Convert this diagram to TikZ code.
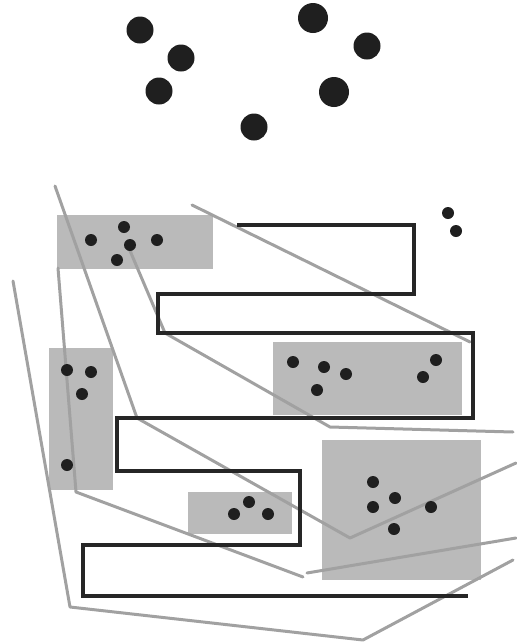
\documentclass[tikz,border=0pt]{standalone}
\begin{document}
\begin{tikzpicture}[x=1pt,y=-1pt,
  graybox/.style={fill=black!27,draw=none},
  grayline/.style={draw=black!37,line width=3pt,line join=round,line cap=round},
  meander/.style={draw=black!85,line width=3.2pt,line join=miter},
  bigdot/.style={fill=black!88,draw=none},
  smalldot/.style={fill=black!88,draw=none}]
\useasboundingbox (0,0) rectangle (517,643);
% gray boxes
\fill[graybox] (57,215) rectangle (213,269);
\fill[graybox] (273,342) rectangle (462,415);
\fill[graybox] (49,348) rectangle (113,490);
\fill[graybox] (188,492) rectangle (292,534);
\fill[graybox] (322,440) rectangle (481,580);
% gray lines
\draw[grayline] (55,186) -- (137,418) -- (350,538) -- (516,463);
\draw[grayline] (192,205) -- (470,342);
\draw[grayline] (128,246) -- (165,333) -- (330,427) -- (513,432);
\draw[grayline] (58,268) -- (76,492) -- (303,577);
\draw[grayline] (307,573) -- (516,538);
\draw[grayline] (13,281) -- (70,607) -- (363,640) -- (513,560);
% black meander
\draw[meander] (237,225) -- (414,225) -- (414,294) -- (158,294) -- (158,333)
  -- (473,333) -- (473,418) -- (117,418) -- (117,471) -- (300,471) -- (300,545)
  -- (83,545) -- (83,596) -- (468,596);
% big dots
\fill[bigdot] (140,30) circle (13.5);
\fill[bigdot] (181,58) circle (13.5);
\fill[bigdot] (159,91) circle (13.5);
\fill[bigdot] (254,127) circle (13.5);
\fill[bigdot] (313,18) circle (15);
\fill[bigdot] (367,46) circle (13.5);
\fill[bigdot] (334,92) circle (15);
% small dots
\foreach \p in {(91,240),(124,227),(130,245),(117,260),(157,240),
  (67,370),(91,372),(82,394),(67,465),
  (293,362),(324,367),(346,374),(317,390),(436,360),(423,377),
  (249,502),(234,514),(268,514),
  (373,482),(395,498),(373,507),(431,507),(394,529),
  (448,213),(456,231)}
  \fill[smalldot] \p circle (6);
\end{tikzpicture}
\end{document}
